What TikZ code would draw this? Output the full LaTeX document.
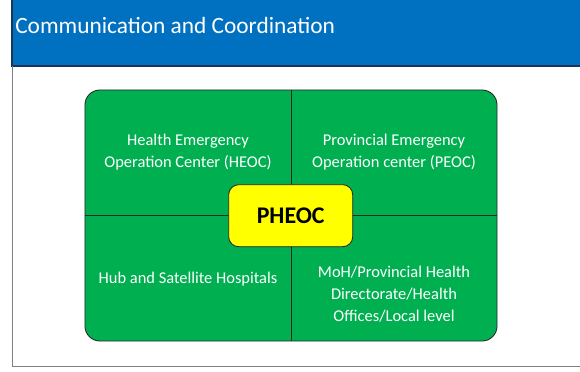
\documentclass[tikz,border=0pt]{standalone}
\usepackage{fontspec}
\setmainfont{Carlito}
\usetikzlibrary{positioning}
\definecolor{slideblue}{RGB}{0,112,192}
\definecolor{slidenavy}{RGB}{28,52,92}
\definecolor{boardgreen}{RGB}{0,176,80}
\definecolor{hubyellow}{RGB}{255,255,0}
\definecolor{frameline}{RGB}{128,128,128}
\definecolor{edgeline}{RGB}{38,38,38}

\begin{document}
\begin{tikzpicture}[
  x=0.025cm, y=-0.025cm,
  font=\fontsize{11.7}{15.4}\selectfont,
  quarter/.style={text=white, align=center},
  divider/.style={draw=edgeline, line width=0.6pt}
]
\useasboundingbox (0,0) rectangle (580,371);
% slide frame and title band
\fill[slideblue] (12,0) rectangle (580,66);
\draw[slidenavy, line width=0.8pt] (12,0) -- (12,66) -- (580,66);
\draw[frameline, line width=0.7pt] (12,66) -- (12,366) -- (580,366);
\node[anchor=base west, text=white, font=\fontsize{16.6}{20}\selectfont, inner sep=0pt] (title) at (15,33) {Communication and Coordination};
% the four areas
\node[draw=edgeline, fill=boardgreen, rounded corners=0.375cm, line width=0.6pt,
      minimum width=10.3cm, minimum height=6.275cm, inner sep=0pt] (board) at (291,215.5) {};
\draw[divider] (board.north) -- (board.south);
\draw[divider] (board.west) -- (board.east);
\node[quarter] (heoc) at (188,152) {Health Emergency\\Operation Center (HEOC)};
\node[quarter] (peoc) at (394,152) {Provincial Emergency\\Operation center (PEOC)};
\node[quarter] (hub) at (188,279) {Hub and Satellite Hospitals};
\node[quarter] (moh) at (394,294) {MoH/Provincial Health\\Directorate/Health\\Offices/Local level};
% centre
\node[draw=edgeline, fill=hubyellow, rounded corners=0.25cm, line width=0.6pt,
      minimum width=3.1cm, minimum height=1.55cm, inner sep=0pt,
      font=\fontsize{17}{20}\selectfont\bfseries] (pheoc) at (290.7,215.7) {PHEOC};
\end{tikzpicture}
\end{document}
